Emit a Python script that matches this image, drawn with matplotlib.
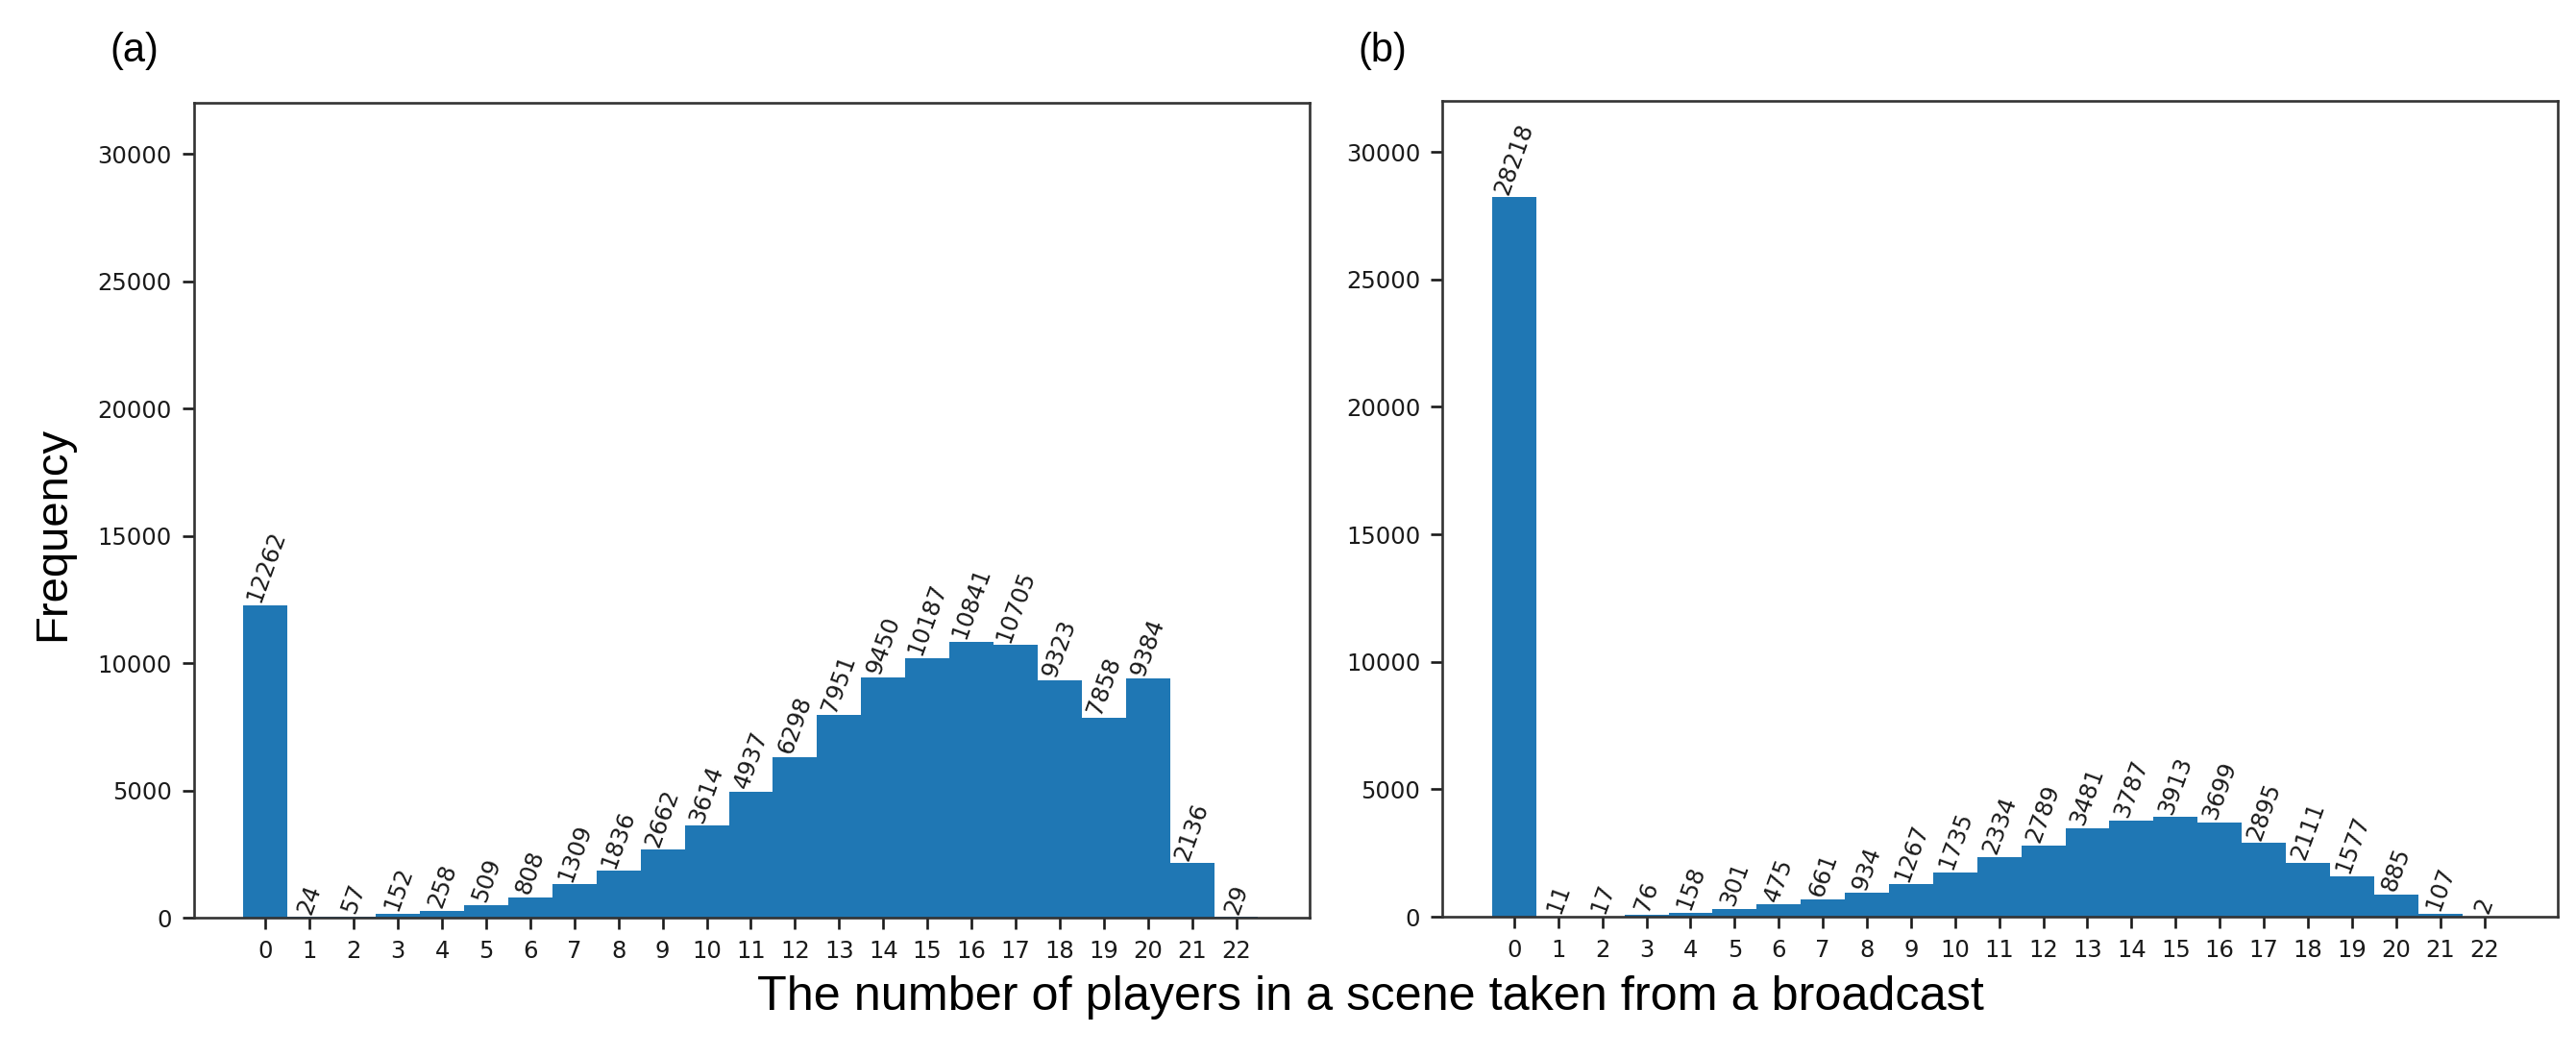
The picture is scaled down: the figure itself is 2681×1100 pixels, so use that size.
import matplotlib
matplotlib.use('Agg')
import matplotlib.pyplot as plt

# Number of players per scene (0..22) and how often each count occurs.
PLAYERS = list(range(23))
FREQ_A = [12262, 24, 57, 152, 258, 509, 808, 1309, 1836, 2662, 3614, 4937,
          6298, 7951, 9450, 10187, 10841, 10705, 9323, 7858, 9384, 2136, 29]
FREQ_B = [28218, 11, 17, 76, 158, 301, 475, 661, 934, 1267, 1735, 2334,
          2789, 3481, 3787, 3913, 3699, 2895, 2111, 1577, 885, 107, 2]
Y_TICKS = [0, 5000, 10000, 15000, 20000, 25000, 30000]
PANEL_NAMES = ['(a)', '(b)']

LABEL_FONT = ['Liberation Sans', 'DejaVu Sans']

plt.rcParams['axes.linewidth'] = 1.9
plt.rcParams['xtick.major.size'] = 8.4
plt.rcParams['ytick.major.size'] = 8.4
plt.rcParams['xtick.major.width'] = 1.9
plt.rcParams['ytick.major.width'] = 1.9
plt.rcParams['xtick.major.pad'] = 8
plt.rcParams['ytick.major.pad'] = 8
plt.rcParams['axes.edgecolor'] = '#333333'

fig = plt.figure(figsize=(26.81, 11), dpi=100)
ax_a = fig.add_axes([0.0752, 0.1318, 0.4331, 0.7709])
ax_b = fig.add_axes([0.5599, 0.1327, 0.4329, 0.7718])


def draw_panel(ax, values):
    """Bar histogram with rotated count labels on top of each bar."""
    ax.bar(PLAYERS, values, width=1.0, color='#1f77b4')
    for x, v in zip(PLAYERS, values):
        ax.text(x, v, str(v), rotation=70, ha='center', va='bottom',
                fontsize=17.5, color='#1a1a1a')
    ax.set_xlim(-1.63, 23.66)
    ax.set_ylim(0, 32000)
    ax.set_xticks(PLAYERS)
    ax.set_yticks(Y_TICKS)
    ax.tick_params(labelsize=17.5, colors='#1a1a1a')


draw_panel(ax_a, FREQ_A)
draw_panel(ax_b, FREQ_B)

fig.text(0.0523, 0.952, PANEL_NAMES[0], fontsize=30, family=LABEL_FONT,
         ha='center', va='center')
fig.text(0.5368, 0.952, PANEL_NAMES[1], fontsize=30, family=LABEL_FONT,
         ha='center', va='center')
fig.text(0.0205, 0.495, 'Frequency', rotation=90, fontsize=34,
         family=LABEL_FONT, ha='center', va='center')
fig.text(0.532, 0.056, 'The number of players in a scene taken from a broadcast',
         fontsize=36.3, family=LABEL_FONT, ha='center', va='center')

plt.savefig('out.png', dpi=100)
plt.close()
